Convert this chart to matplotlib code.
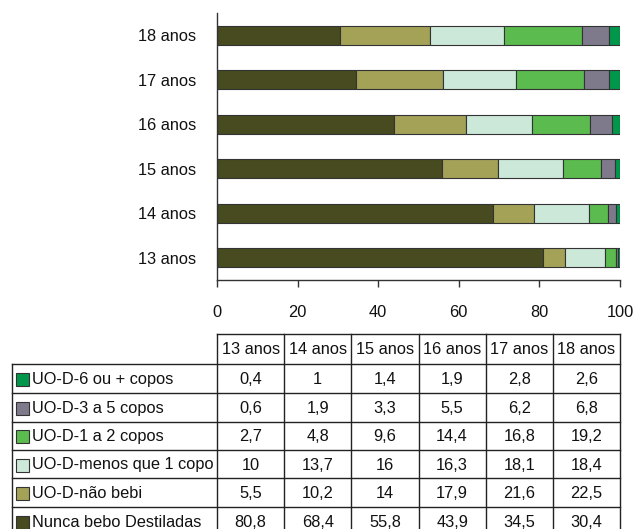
import matplotlib
matplotlib.use("Agg")
import matplotlib.pyplot as plt
from matplotlib.patches import Rectangle
import numpy as np

plt.rcParams['font.family'] = ['Liberation Sans', 'DejaVu Sans']

ages = ["13 anos", "14 anos", "15 anos", "16 anos", "17 anos", "18 anos"]
nunca = [80.8, 68.4, 55.8, 43.9, 34.5, 30.4]
nao_bebi = [5.5, 10.2, 14, 17.9, 21.6, 22.5]
menos1 = [10, 13.7, 16, 16.3, 18.1, 18.4]
c1a2 = [2.7, 4.8, 9.6, 14.4, 16.8, 19.2]
c3a5 = [0.6, 1.9, 3.3, 5.5, 6.2, 6.8]
c6mais = [0.4, 1, 1.4, 1.9, 2.8, 2.6]

series_names = ["Nunca bebo Destiladas", "UO-D-não bebi", "UO-D-menos que 1 copo",
                "UO-D-1 a 2 copos", "UO-D-3 a 5 copos", "UO-D-6 ou + copos"]
series_vals = [nunca, nao_bebi, menos1, c1a2, c3a5, c6mais]
colors = ["#474B1F", "#A4A257", "#CCE8D8", "#5CBB4F", "#7E7A8C", "#00974A"]

W, H = 637, 529
fig = plt.figure(figsize=(W / 100, H / 100), dpi=100)
FS = 11.8
edge = "#333333"
tc = "#111111"

# chart axes
x0, x1 = 217, 620
ytop, ybot = 13, 280
ax = fig.add_axes([x0 / W, 1 - ybot / H, (x1 - x0) / W, (ybot - ytop) / H])
ypos = np.arange(len(ages))
left = np.zeros(len(ages))
for vals, col in zip(series_vals, colors):
    ax.barh(ypos, vals, left=left, height=0.42, color=col, edgecolor=edge, linewidth=0.8)
    left += np.array(vals)
ax.set_xlim(0, 100)
ax.set_ylim(-0.5, 5.5)
ax.set_yticks(ypos)
ax.set_yticklabels(ages, fontsize=FS, color=tc)
ax.set_xticks([0, 20, 40, 60, 80, 100])
ax.tick_params(axis='y', length=0, pad=15)
ax.tick_params(axis='x', length=5, width=1, color=edge, pad=13, labelsize=FS, labelcolor=tc)
for s in ["top", "right"]:
    ax.spines[s].set_visible(False)
for s in ["left", "bottom"]:
    ax.spines[s].set_color(edge)
    ax.spines[s].set_linewidth(1)

# table axes in pixel coordinates
tax = fig.add_axes([0, 0, 1, 1])
tax.set_xlim(0, W)
tax.set_ylim(H, 0)
tax.axis("off")

lx = 12
ncol = len(ages)
cw = (x1 - x0) / ncol
colx = [x0 + i * cw for i in range(ncol + 1)]
hdr_top = 334
row_lines = [364, 393, 421.5, 450, 478, 507, 536]
lc = "#222222"
lw = 1.0
# header
tax.plot([x0, x1], [hdr_top, hdr_top], color=lc, lw=lw)
for cx in colx:
    tax.plot([cx, cx], [hdr_top, row_lines[-1]], color=lc, lw=lw)
tax.plot([lx, lx], [row_lines[0], row_lines[-1]], color=lc, lw=lw)
for ry in row_lines:
    tax.plot([lx, x1], [ry, ry], color=lc, lw=lw)
for i, a in enumerate(ages):
    tax.text(colx[i] + cw / 2, (hdr_top + row_lines[0]) / 2 + 1, a, ha="center", va="center",
             fontsize=FS, color=tc)

order = list(range(len(series_names)))[::-1]  # top row: 6 ou +
for r, si in enumerate(order):
    yc = (row_lines[r] + row_lines[r + 1]) / 2 + 1
    tax.add_patch(Rectangle((16, yc - 6.5), 13, 13, facecolor=colors[si], edgecolor=edge, lw=0.8))
    tax.text(32, yc, series_names[si], ha="left", va="center", fontsize=FS, color=tc)
    for c in range(ncol):
        v = series_vals[si][c]
        s = ("%g" % v).replace(".", ",")
        tax.text(colx[c] + cw / 2, yc, s, ha="center", va="center", fontsize=FS, color=tc)

fig.savefig("out.png", dpi=100)
